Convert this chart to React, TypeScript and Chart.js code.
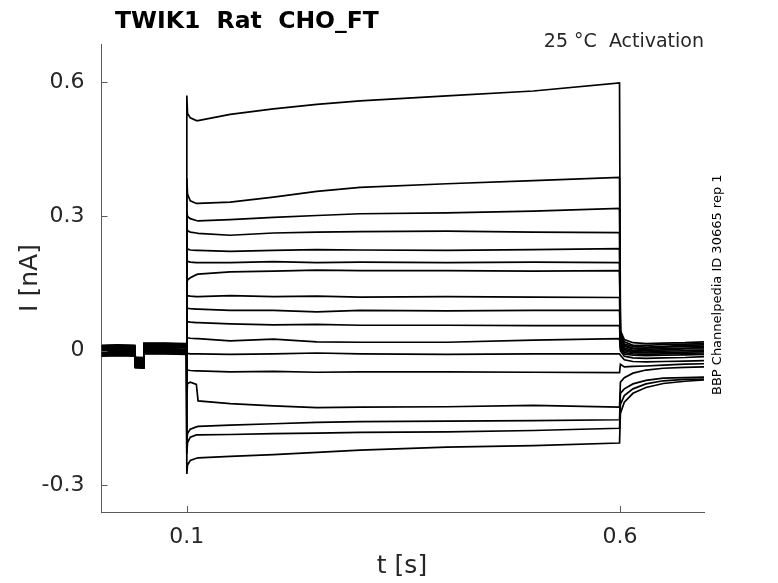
import { useEffect, useRef } from "react"
import { Chart, registerables, type ChartConfiguration, type Plugin } from "chart.js"

Chart.register(...registerables)

// time points (s) of each sweep segment
const preTimes = [0.0015, 0.02, 0.04, 0.0405, 0.05, 0.0505, 0.075, 0.0995]
const stepTimes = [0.1, 0.1008, 0.104, 0.111, 0.113, 0.15, 0.2, 0.25, 0.3, 0.4, 0.5, 0.5995]
const tailTimes = [0.6005, 0.605, 0.615, 0.63, 0.65, 0.675, 0.697]

// holding segment (nA): shared prepulse shape + per-sweep holding level
const prePulse = [0.0, 0.001, 0.0, -0.026, -0.027, 0.005, 0.005, 0.004]
const holdLevels = [
  0.008, -0.004, 0.012, -0.01, 0.004, -0.007, 0.01, 0.0, -0.012,
  0.006, -0.002, 0.011, -0.008, 0.003, -0.005, 0.009, -0.011,
]

// test pulse currents (nA), one row per sweep
const stepCurrents = [
  [0.57, 0.53, 0.52, 0.514, 0.514, 0.528, 0.54, 0.55, 0.558, 0.569, 0.58, 0.598],
  [0.385, 0.35, 0.335, 0.329, 0.329, 0.332, 0.343, 0.356, 0.365, 0.373, 0.38, 0.387],
  [0.31, 0.3, 0.295, 0.291, 0.29, 0.293, 0.298, 0.302, 0.306, 0.308, 0.312, 0.318],
  [0.275, 0.268, 0.265, 0.263, 0.262, 0.258, 0.263, 0.265, 0.266, 0.267, 0.265, 0.264],
  [0.232, 0.227, 0.225, 0.224, 0.224, 0.222, 0.224, 0.226, 0.225, 0.224, 0.226, 0.228],
  [0.205, 0.2, 0.198, 0.197, 0.197, 0.197, 0.199, 0.197, 0.198, 0.197, 0.198, 0.197],
  [0.15, 0.158, 0.163, 0.17, 0.171, 0.176, 0.178, 0.18, 0.179, 0.179, 0.178, 0.179],
  [0.126, 0.123, 0.122, 0.121, 0.121, 0.123, 0.121, 0.122, 0.12, 0.121, 0.12, 0.119],
  [0.098, 0.095, 0.094, 0.093, 0.093, 0.09, 0.09, 0.087, 0.09, 0.089, 0.09, 0.09],
  [0.068, 0.065, 0.064, 0.063, 0.063, 0.06, 0.058, 0.059, 0.057, 0.057, 0.056, 0.056],
  [0.031, 0.029, 0.028, 0.027, 0.027, 0.022, 0.026, 0.02, 0.019, 0.019, 0.024, 0.027],
  [-0.004, -0.006, -0.007, -0.007, -0.007, -0.008, -0.007, -0.005, -0.007, -0.008, -0.007, -0.007],
  [-0.04, -0.043, -0.044, -0.045, -0.045, -0.047, -0.046, -0.048, -0.047, -0.047, -0.048, -0.049],
  [-0.1, -0.073, -0.07, -0.075, -0.112, -0.118, -0.123, -0.127, -0.126, -0.125, -0.122, -0.126],
  [-0.2, -0.185, -0.175, -0.17, -0.169, -0.166, -0.163, -0.16, -0.158, -0.157, -0.156, -0.154],
  [-0.23, -0.205, -0.193, -0.188, -0.188, -0.187, -0.185, -0.184, -0.182, -0.181, -0.178, -0.173],
  [-0.275, -0.255, -0.245, -0.24, -0.239, -0.236, -0.232, -0.227, -0.222, -0.215, -0.212, -0.206],
]

// tail currents after the pulse (nA)
const tailCurrents = [
  [0.045, 0.025, 0.018, 0.016, 0.017, 0.018, 0.02],
  [0.04, 0.02, 0.012, 0.012, 0.014, 0.015, 0.016],
  [0.035, 0.015, 0.01, 0.008, 0.01, 0.012, 0.013],
  [0.03, 0.012, 0.006, 0.006, 0.008, 0.01, 0.01],
  [0.028, 0.01, 0.004, 0.003, 0.005, 0.006, 0.007],
  [0.025, 0.006, 0.001, 0.0, 0.002, 0.004, 0.004],
  [0.02, 0.003, -0.002, -0.003, -0.001, 0.0, 0.001],
  [0.015, 0.0, -0.004, -0.005, -0.004, -0.003, -0.002],
  [0.01, -0.004, -0.007, -0.008, -0.007, -0.006, -0.005],
  [0.005, -0.007, -0.01, -0.011, -0.01, -0.009, -0.008],
  [0.0, -0.012, -0.016, -0.017, -0.016, -0.015, -0.013],
  [-0.01, -0.02, -0.024, -0.025, -0.024, -0.023, -0.022],
  [-0.03, -0.036, -0.035, -0.034, -0.032, -0.03, -0.029],
  [-0.07, -0.06, -0.05, -0.043, -0.039, -0.037, -0.036],
  [-0.095, -0.085, -0.074, -0.066, -0.061, -0.06, -0.059],
  [-0.12, -0.1, -0.085, -0.074, -0.067, -0.064, -0.063],
  [-0.14, -0.115, -0.095, -0.082, -0.073, -0.068, -0.065],
]

const xTicks = [0.1, 0.6]
const yTicks = [-0.3, 0, 0.3, 0.6]

const axisColor = "#5a5a5a"
const textColor = "#262626"
const font = "DejaVu Sans"

const decorations: Plugin = {
  id: "decorations",
  afterDraw(chart) {
    const { ctx, chartArea, scales } = chart
    ctx.save()
    // inward ticks
    ctx.strokeStyle = axisColor
    ctx.lineWidth = 1
    ctx.beginPath()
    xTicks.forEach((v) => {
      const px = Math.round(scales.x.getPixelForValue(v)) + 0.5
      ctx.moveTo(px, chartArea.bottom)
      ctx.lineTo(px, chartArea.bottom - 6)
    })
    yTicks.forEach((v) => {
      const py = Math.round(scales.y.getPixelForValue(v)) + 0.5
      ctx.moveTo(chartArea.left, py)
      ctx.lineTo(chartArea.left + 6, py)
    })
    ctx.stroke()

    // title
    ctx.fillStyle = "#000"
    ctx.font = `bold 23.5px "${font}"`
    ctx.textAlign = "left"
    ctx.textBaseline = "alphabetic"
    ctx.fillText("TWIK1  Rat  CHO_FT", 115, 28)

    // condition note
    ctx.fillStyle = textColor
    ctx.font = `19px "${font}"`
    ctx.textAlign = "right"
    ctx.fillText("25 °C  Activation", 704, 47)

    // axis labels
    ctx.font = `25px "${font}"`
    ctx.textAlign = "center"
    ctx.fillText("t [s]", 402, 573)
    ctx.save()
    ctx.translate(37, 278)
    ctx.rotate(-Math.PI / 2)
    ctx.fillText("I [nA]", 0, 0)
    ctx.restore()

    // source note
    ctx.fillStyle = "#000"
    ctx.font = `13px "${font}"`
    ctx.textAlign = "left"
    ctx.translate(721, 395)
    ctx.rotate(-Math.PI / 2)
    ctx.fillText("BBP Channelpedia ID 30665 rep 1", 0, 0)
    ctx.restore()
  },
}

export default function App() {
  const chartRef = useRef<HTMLCanvasElement>(null)
  const chartInstance = useRef<Chart | null>(null)

  useEffect(() => {
    if (!chartRef.current) return
    document.body.style.margin = "0"

    if (chartInstance.current) {
      chartInstance.current.destroy()
    }

    const datasets = stepCurrents.map((step, i) => {
      const pre = preTimes.map((t, j) => ({ x: t, y: prePulse[j] + holdLevels[i] }))
      const pulse = stepTimes.map((t, j) => ({ x: t, y: step[j] }))
      const tail = tailTimes.map((t, j) => ({ x: t, y: tailCurrents[i][j] }))
      return {
        label: `sweep ${i + 1}`,
        data: [...pre, ...pulse, ...tail],
        borderColor: "#000",
        borderWidth: 1.7,
        pointRadius: 0,
        tension: 0,
        fill: false,
      }
    })

    const config: ChartConfiguration<"line"> = {
      type: "line",
      data: { datasets },
      options: {
        animation: false,
        responsive: false,
        devicePixelRatio: 1,
        layout: { padding: { top: 44, right: 74, left: 0, bottom: 0 } },
        plugins: {
          legend: { display: false },
          tooltip: { enabled: false },
        },
        scales: {
          x: {
            type: "linear",
            min: 0.0015,
            max: 0.697,
            grid: { display: false, drawTicks: false },
            border: { display: true, color: axisColor, width: 1 },
            afterBuildTicks: (scale) => {
              scale.ticks = xTicks.map((v) => ({ value: v }))
            },
            afterFit: (scale) => {
              scale.height = 71
            },
            ticks: {
              color: textColor,
              font: { family: font, size: 22 },
              padding: 12,
              maxRotation: 0,
              callback: (v) => String(v),
            },
          },
          y: {
            type: "linear",
            min: -0.36,
            max: 0.685,
            grid: { display: false, drawTicks: false },
            border: { display: true, color: axisColor, width: 1 },
            afterBuildTicks: (scale) => {
              scale.ticks = yTicks.map((v) => ({ value: v }))
            },
            afterFit: (scale) => {
              scale.width = 101.5
            },
            ticks: {
              color: textColor,
              font: { family: font, size: 22 },
              padding: 17,
              callback: (v) => String(v),
            },
          },
        },
      },
      plugins: [decorations],
    }

    chartInstance.current = new Chart(chartRef.current, config)

    return () => {
      if (chartInstance.current) {
        chartInstance.current.destroy()
        chartInstance.current = null
      }
    }
  }, [])

  return (
    <div style={{ width: 778, height: 583, background: "#fff" }}>
      <canvas ref={chartRef} width={778} height={583} style={{ display: "block" }} />
    </div>
  )
}
